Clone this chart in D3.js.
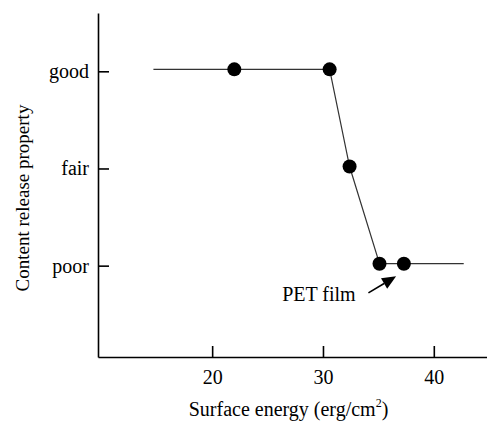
<!DOCTYPE html>
<html>
<head>
<meta charset="utf-8">
<script src="https://cdn.jsdelivr.net/npm/d3@7"></script>
<style>
  html, body { margin: 0; padding: 0; background: #fff; }
  svg { display: block; }
  svg text { font-family: "Liberation Serif", "Times New Roman", serif !important; fill: #000; }
</style>
</head>
<body>
<svg id="chart" width="487" height="421"></svg>
<script>
// ---- data ----
const levelNames = ["poor", "fair", "good"];
const levelValues = [1, 2, 3];
const xTicks = [20, 30, 40];
const pointsX = [22.0, 30.6, 32.4, 35.1, 37.3];
const pointsY = [3.02, 3.02, 2.02, 1.02, 1.02];
const lineX = [14.7, 22.0, 30.6, 32.4, 35.1, 37.3, 42.7];
const lineY = [3.02, 3.02, 3.02, 2.02, 1.02, 1.02, 1.02];
const annotText = "PET film";
const annotTextPos = [32.95, 0.64];
const arrowFrom = [34.1, 0.72];
const arrowTo = [36.6, 0.89];
const xLabel = "Surface energy (erg/cm";
const yLabel = "Content release property";

(function () {
// ---- layout ----
const mLeft = 98, mRight = 487, mTop = 13, mBottom = 357;
const svg = d3.select("#chart");

const x = d3.scaleLinear().domain([9.7, 44.8]).range([mLeft, mRight]);
const y = d3.scaleLinear().domain([0.06, 3.6]).range([mBottom, mTop]);

const fontSize = 20;

// x axis
const gx = svg.append("g").attr("transform", `translate(0,${mBottom})`)
  .call(d3.axisBottom(x).tickValues(xTicks).tickSizeInner(-11).tickSizeOuter(0).tickPadding(13).tickFormat(d3.format("d")));
gx.attr("font-family", null).attr("font-size", null);
gx.select(".domain").attr("stroke", "#000").attr("stroke-width", 1.6);
gx.selectAll(".tick line").attr("stroke", "#000").attr("stroke-width", 1.6);
gx.selectAll(".tick text").style("font-size", fontSize + "px").attr("fill", "#000");

// y axis
const gy = svg.append("g").attr("transform", `translate(${mLeft},0)`)
  .call(d3.axisLeft(y).tickValues(levelValues).tickSizeInner(-11).tickSizeOuter(0).tickPadding(9)
    .tickFormat(d => levelNames[levelValues.indexOf(d)]));
gy.attr("font-family", null).attr("font-size", null);
gy.select(".domain").attr("stroke", "#000").attr("stroke-width", 1.6);
gy.selectAll(".tick line").attr("stroke", "#000").attr("stroke-width", 1.6);
gy.selectAll(".tick text").style("font-size", fontSize + "px").attr("fill", "#000");

// line
const line = d3.line().x(d => x(d[0])).y(d => y(d[1]));
svg.append("path")
  .datum(lineX.map((v, i) => [v, lineY[i]]))
  .attr("d", line)
  .attr("fill", "none")
  .attr("stroke", "#333")
  .attr("stroke-width", 1.2);

// points
svg.append("g").selectAll("circle")
  .data(pointsX.map((v, i) => [v, pointsY[i]]))
  .join("circle")
  .attr("cx", d => x(d[0]))
  .attr("cy", d => y(d[1]))
  .attr("r", 7)
  .attr("fill", "#000");

// annotation
svg.append("text")
  .attr("x", x(annotTextPos[0]))
  .attr("y", y(annotTextPos[1]))
  .attr("text-anchor", "end")
  .style("font-size", fontSize + "px")
  .text(annotText);

const ax0 = x(arrowFrom[0]), ay0 = y(arrowFrom[1]);
const ax1 = x(arrowTo[0]), ay1 = y(arrowTo[1]);
const ang = Math.atan2(ay1 - ay0, ax1 - ax0);
const headLen = 14, headW = 6;
const bx = ax1 - headLen * Math.cos(ang), by = ay1 - headLen * Math.sin(ang);
svg.append("line")
  .attr("x1", ax0).attr("y1", ay0).attr("x2", bx).attr("y2", by)
  .attr("stroke", "#000").attr("stroke-width", 1.6);
svg.append("path")
  .attr("d", d3.line()([
    [ax1, ay1],
    [bx + headW * Math.sin(ang), by - headW * Math.cos(ang)],
    [bx - headW * Math.sin(ang), by + headW * Math.cos(ang)]
  ]) + "Z")
  .attr("fill", "#000");

// axis titles
const xt = svg.append("text")
  .attr("x", (mLeft + mRight) / 2 - 4)
  .attr("y", 416)
  .attr("text-anchor", "middle")
  .style("font-size", fontSize + "px");
xt.append("tspan").text(xLabel);
xt.append("tspan").style("font-size", "12px").attr("dy", -9).text("2");
xt.append("tspan").attr("dy", 9).text(")");

svg.append("text")
  .attr("transform", `translate(29,198) rotate(-90)`)
  .attr("text-anchor", "middle")
  .style("font-size", "19px")
  .text(yLabel);
})();
</script>
</body>
</html>
